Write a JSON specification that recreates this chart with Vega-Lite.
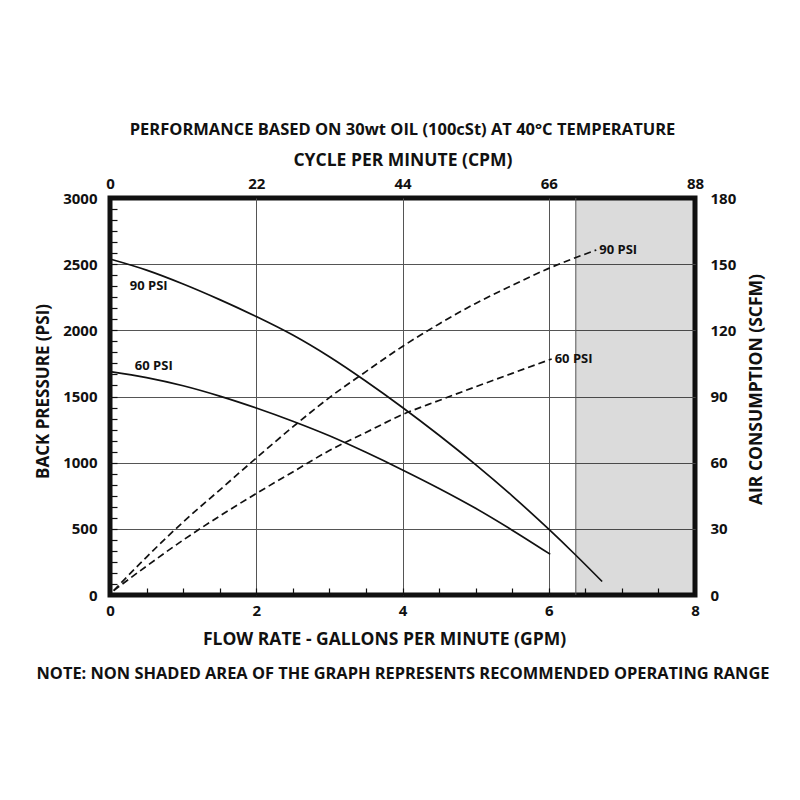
{
  "$schema": "https://vega.github.io/schema/vega-lite/v6.json",
  "width": 585,
  "height": 397,
  "autosize": {"type": "none"},
  "padding": {"left": 110, "top": 198, "right": 105, "bottom": 205},
  "background": "white",
  "title": {
    "text": "PERFORMANCE BASED ON 30wt OIL (100cSt) AT 40°C TEMPERATURE",
    "font": "Open Sans",
    "fontSize": 16.5,
    "fontWeight": "bold",
    "color": "#111",
    "offset": 13,
    "frame": "group"
  },
  "datasets": {
    "shade": [{"from": 6.37, "to": 8}],
    "pressure": [
      {"series": "90 PSI", "gpm": 0, "psi": 2539},
      {"series": "90 PSI", "gpm": 0.5, "psi": 2455},
      {"series": "90 PSI", "gpm": 1, "psi": 2350},
      {"series": "90 PSI", "gpm": 1.5, "psi": 2232},
      {"series": "90 PSI", "gpm": 2, "psi": 2104},
      {"series": "90 PSI", "gpm": 2.5, "psi": 1964},
      {"series": "90 PSI", "gpm": 3, "psi": 1800},
      {"series": "90 PSI", "gpm": 3.5, "psi": 1615},
      {"series": "90 PSI", "gpm": 4, "psi": 1417},
      {"series": "90 PSI", "gpm": 4.5, "psi": 1207},
      {"series": "90 PSI", "gpm": 5, "psi": 985},
      {"series": "90 PSI", "gpm": 5.5, "psi": 749},
      {"series": "90 PSI", "gpm": 6, "psi": 497},
      {"series": "90 PSI", "gpm": 6.36, "psi": 306},
      {"series": "90 PSI", "gpm": 6.73, "psi": 102},
      {"series": "60 PSI", "gpm": 0, "psi": 1688},
      {"series": "60 PSI", "gpm": 0.5, "psi": 1643},
      {"series": "60 PSI", "gpm": 1, "psi": 1581},
      {"series": "60 PSI", "gpm": 1.5, "psi": 1503},
      {"series": "60 PSI", "gpm": 2, "psi": 1413},
      {"series": "60 PSI", "gpm": 2.5, "psi": 1313},
      {"series": "60 PSI", "gpm": 3, "psi": 1203},
      {"series": "60 PSI", "gpm": 3.5, "psi": 1078},
      {"series": "60 PSI", "gpm": 4, "psi": 945},
      {"series": "60 PSI", "gpm": 4.5, "psi": 805},
      {"series": "60 PSI", "gpm": 5, "psi": 655},
      {"series": "60 PSI", "gpm": 5.5, "psi": 490},
      {"series": "60 PSI", "gpm": 6.02, "psi": 308}
    ],
    "pressureLabels": [
      {"gpm": 0.27, "psi": 2335, "label": "90 PSI"},
      {"gpm": 0.34, "psi": 1733, "label": "60 PSI"}
    ],
    "air": [
      {"series": "90 PSI", "gpm": 0.05, "scfm": 2},
      {"series": "90 PSI", "gpm": 0.5, "scfm": 17.2},
      {"series": "90 PSI", "gpm": 1, "scfm": 33.1},
      {"series": "90 PSI", "gpm": 1.5, "scfm": 47.6},
      {"series": "90 PSI", "gpm": 2, "scfm": 62.1},
      {"series": "90 PSI", "gpm": 2.5, "scfm": 76.2},
      {"series": "90 PSI", "gpm": 3, "scfm": 89.5},
      {"series": "90 PSI", "gpm": 3.5, "scfm": 101.3},
      {"series": "90 PSI", "gpm": 4, "scfm": 112.7},
      {"series": "90 PSI", "gpm": 4.5, "scfm": 122.9},
      {"series": "90 PSI", "gpm": 5, "scfm": 132.2},
      {"series": "90 PSI", "gpm": 5.5, "scfm": 140.4},
      {"series": "90 PSI", "gpm": 6, "scfm": 148.1},
      {"series": "90 PSI", "gpm": 6.65, "scfm": 156.4},
      {"series": "60 PSI", "gpm": 0.05, "scfm": 2},
      {"series": "60 PSI", "gpm": 0.5, "scfm": 13.1},
      {"series": "60 PSI", "gpm": 1, "scfm": 24.9},
      {"series": "60 PSI", "gpm": 1.5, "scfm": 35.8},
      {"series": "60 PSI", "gpm": 2, "scfm": 46.0},
      {"series": "60 PSI", "gpm": 2.5, "scfm": 55.8},
      {"series": "60 PSI", "gpm": 3, "scfm": 65.5},
      {"series": "60 PSI", "gpm": 3.5, "scfm": 73.7},
      {"series": "60 PSI", "gpm": 4, "scfm": 81.8},
      {"series": "60 PSI", "gpm": 4.5, "scfm": 88.2},
      {"series": "60 PSI", "gpm": 5, "scfm": 94.4},
      {"series": "60 PSI", "gpm": 5.5, "scfm": 100.5},
      {"series": "60 PSI", "gpm": 6.04, "scfm": 107}
    ]
  },
  "layer": [
    {
      "data": {"name": "shade"},
      "encoding": {
        "x": {
          "field": "from",
          "type": "quantitative",
          "scale": {"domain": [0, 8], "nice": false, "zero": true},
          "axis": {
            "orient": "bottom",
            "title": "FLOW RATE - GALLONS PER MINUTE (GPM)",
            "values": [0, 0.5, 1, 1.5, 2, 2.5, 3, 3.5, 4, 4.5, 5, 5.5, 6, 6.5, 7, 7.5, 8],
            "labelExpr": "datum.value % 2 == 0 ? format(datum.value, 'd') : ''",
            "grid": true,
            "gridColor": "#555",
            "gridWidth": 1,
            "gridOpacity": {"condition": {"test": "datum.value % 2 == 0 && datum.value > 0 && datum.value < 8", "value": 1}, "value": 0},
            "ticks": true,
            "tickSize": -7,
            "tickColor": "#111",
            "tickWidth": 1.2,
            "labelPadding": 15,
            "titleFontSize": 17.5,
            "titlePadding": 12,
            "titleX": 274
          }
        }
      },
      "layer": [
        {
          "mark": {"type": "rect", "fill": "#000", "fillOpacity": 0.14},
          "encoding": {"x2": {"field": "to"}}
        },
        {
          "mark": {"type": "rule", "color": "#555", "strokeWidth": 1},
          "encoding": {}
        }
      ]
    },
    {
      "encoding": {
        "x": {
          "field": "gpm",
          "type": "quantitative",
          "scale": {"domain": [0, 8], "nice": false, "zero": true},
          "axis": {
            "orient": "top",
            "title": "CYCLE PER MINUTE (CPM)",
            "values": [0, 2, 4, 6, 8],
            "labelExpr": "format(datum.value * 11, 'd')",
            "grid": false,
            "ticks": false,
            "labelPadding": 7,
            "titleFontSize": 17.5,
            "titlePadding": 7
          }
        },
        "y": {
          "field": "psi",
          "type": "quantitative",
          "scale": {"domain": [0, 3000], "nice": false, "zero": true},
          "axis": {
            "orient": "left",
            "title": "BACK PRESSURE (PSI)",
            "values": [0, 83.3333, 166.6667, 250, 333.3333, 416.6667, 500, 583.3333, 666.6667, 750, 833.3333, 916.6667, 1000, 1083.3333, 1166.6667, 1250, 1333.3333, 1416.6667, 1500, 1583.3333, 1666.6667, 1750, 1833.3333, 1916.6667, 2000, 2083.3333, 2166.6667, 2250, 2333.3333, 2416.6667, 2500, 2583.3333, 2666.6667, 2750, 2833.3333, 2916.6667, 3000],
            "labelExpr": "round(datum.value) % 500 == 0 ? format(datum.value, 'd') : ''",
            "grid": true,
            "gridColor": "#555",
            "gridWidth": 1,
            "gridOpacity": {"condition": {"test": "round(datum.value) % 500 == 0 && datum.value > 1 && datum.value < 2999", "value": 1}, "value": 0},
            "ticks": true,
            "tickSize": -7,
            "tickColor": "#111",
            "tickWidth": 1.2,
            "labelPadding": 20,
            "titleFontSize": 17,
            "titlePadding": 10,
            "titleY": 193
          }
        }
      },
      "layer": [
        {
          "data": {"name": "pressure"},
          "mark": {"type": "line", "color": "#111", "strokeWidth": 1.7, "interpolate": "monotone"},
          "encoding": {"detail": {"field": "series"}}
        },
        {
          "data": {"name": "pressureLabels"},
          "mark": {"type": "text", "align": "left", "baseline": "middle", "font": "Open Sans", "fontWeight": "bold", "fontSize": 13, "color": "#111"},
          "encoding": {"text": {"field": "label"}}
        }
      ]
    },
    {
      "data": {"name": "air"},
      "encoding": {
        "x": {
          "field": "gpm",
          "type": "quantitative",
          "scale": {"domain": [0, 8], "nice": false, "zero": true},
          "axis": {
            "orient": "bottom",
            "title": "NOTE: NON SHADED AREA OF THE GRAPH REPRESENTS RECOMMENDED OPERATING RANGE",
            "labels": false,
            "ticks": false,
            "grid": false,
            "titleFontSize": 16.4,
            "titlePadding": 70
          }
        },
        "y": {
          "field": "scfm",
          "type": "quantitative",
          "scale": {"domain": [0, 180], "nice": false, "zero": true},
          "axis": {
            "orient": "right",
            "title": "AIR CONSUMPTION (SCFM)",
            "values": [0, 30, 60, 90, 120, 150, 180],
            "grid": false,
            "ticks": false,
            "labelPadding": 15,
            "titleAngle": 270,
            "titleBaseline": "top",
            "titleFontSize": 17.5,
            "titlePadding": 12,
            "titleY": 191
          }
        }
      },
      "layer": [
        {
          "mark": {"type": "line", "color": "#111", "strokeWidth": 1.7, "strokeDash": [7, 4], "interpolate": "monotone"},
          "encoding": {"detail": {"field": "series"}}
        },
        {
          "transform": [
            {"joinaggregate": [{"op": "max", "field": "gpm", "as": "maxGpm"}], "groupby": ["series"]},
            {"filter": "datum.gpm == datum.maxGpm"}
          ],
          "mark": {"type": "text", "align": "left", "baseline": "middle", "dx": 3, "font": "Open Sans", "fontWeight": "bold", "fontSize": 13, "color": "#111"},
          "encoding": {"text": {"field": "series"}}
        }
      ]
    }
  ],
  "resolve": {
    "scale": {"y": "independent"},
    "axis": {"x": "independent", "y": "independent"}
  },
  "config": {
    "view": {"stroke": "#111", "strokeWidth": 5},
    "font": "Open Sans",
    "axis": {
      "domain": false,
      "labelFont": "Open Sans",
      "labelFontWeight": "bold",
      "labelFontSize": 15,
      "labelColor": "#111",
      "labelFlush": false,
      "labelOverlap": false,
      "labelBound": false,
      "titleFont": "Open Sans",
      "titleFontWeight": "bold",
      "titleFontSize": 17,
      "titleColor": "#111"
    }
  }
}
